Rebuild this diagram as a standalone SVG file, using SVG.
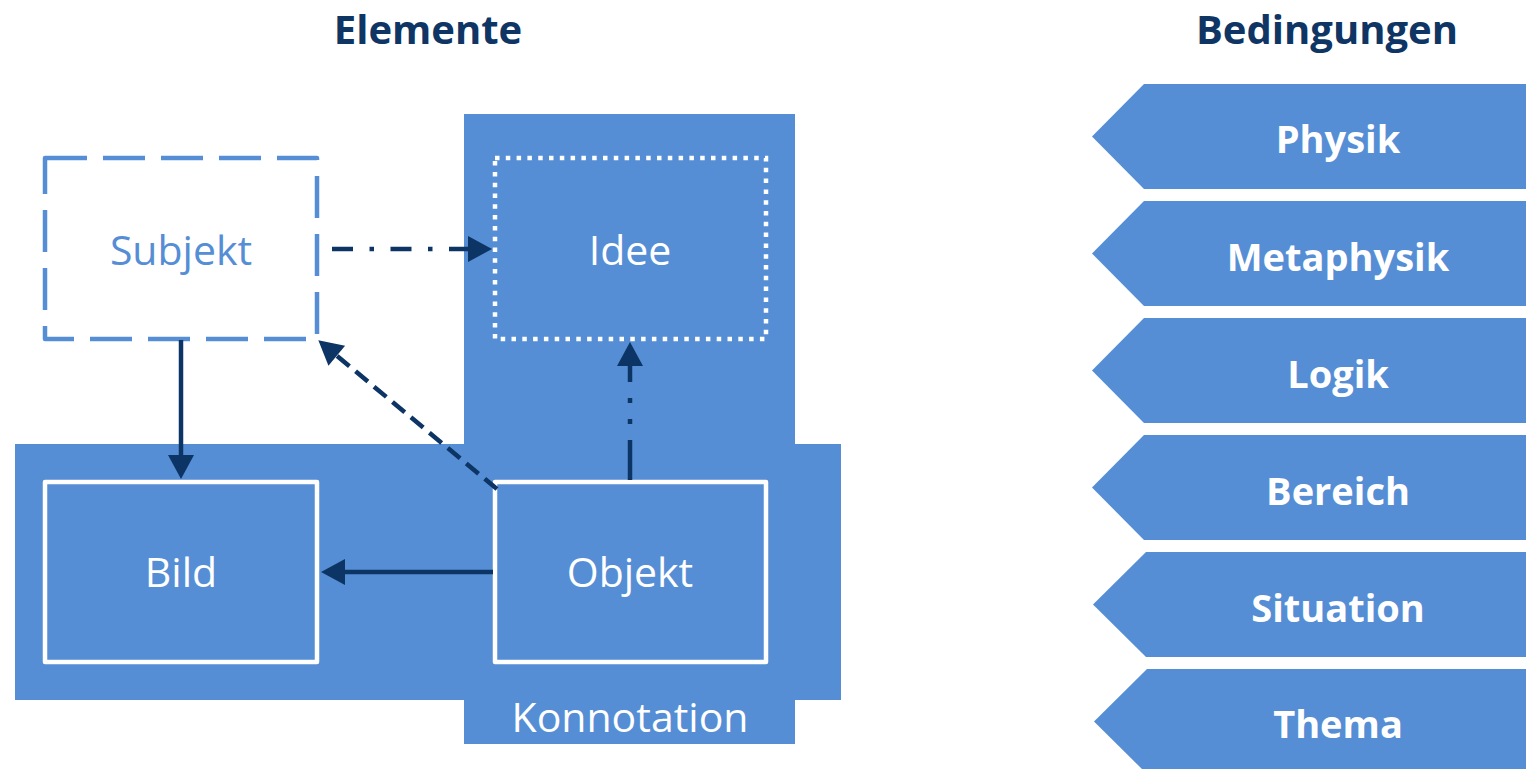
<svg xmlns="http://www.w3.org/2000/svg" width="1526" height="769" viewBox="0 0 1526 769">
<style>
.bg{fill:#558ED5}
.title{font-family:"Open Sans","Noto Sans",sans-serif;font-weight:bold;font-size:40px;fill:#0F3564;text-anchor:middle}
.lbl{font-family:"Open Sans","Noto Sans",sans-serif;font-size:41px;fill:#FFFFFF;text-anchor:middle}
.chev{font-family:"Open Sans","Noto Sans",sans-serif;font-weight:bold;font-size:38px;fill:#FFFFFF;text-anchor:middle}
.box{fill:none;stroke:#FFFFFF;stroke-width:4.5;stroke-linejoin:round}
.con{fill:none;stroke:#0C3464;stroke-width:4.5}
</style>
<defs>
<marker id="ah" markerUnits="userSpaceOnUse" markerWidth="30" markerHeight="30" viewBox="0 -15 26 30" refX="1" refY="0" orient="auto">
<path d="M0,-13 L24,0 L0,13 z" fill="#0C3464"/>
</marker>
</defs>
<rect width="1526" height="769" fill="#FFFFFF"/>
<text class="title" x="428" y="44">Elemente</text>
<text class="title" x="1327" y="44">Bedingungen</text>
<g id="background">
<rect class="bg" x="464" y="114" width="331" height="630"/>
<rect class="bg" x="15" y="444" width="826" height="256"/>
</g>
<g id="konnotation">
<text class="lbl" x="630" y="732">Konnotation</text>
</g>
<g id="subjekt">
<rect x="45" y="158" width="272" height="181" fill="none" stroke="#558ED5" stroke-width="4.5" stroke-linejoin="round" stroke-dasharray="42 16"/>
<text class="lbl" x="181" y="265" fill="#558ED5" style="fill:#558ED5">Subjekt</text>
</g>
<g id="idee">
<rect class="box" x="495" y="158" width="271" height="181" stroke-dasharray="4.5 6.3" style="stroke-linejoin:miter"/>
<text class="lbl" x="630" y="265">Idee</text>
</g>
<g id="bild">
<rect class="box" x="45" y="482" width="272" height="180"/>
<text class="lbl" x="181" y="587">Bild</text>
</g>
<g id="objekt">
<rect class="box" x="495" y="482" width="271" height="180"/>
<text class="lbl" x="630" y="587">Objekt</text>
</g>
<g id="connectors">
<path class="con" d="M181,340 L181,456" stroke-width="4" marker-end="url(#ah)"/>
<path class="con" d="M332,249 L469,249" stroke-dasharray="21 16.5 4.5 16.5" marker-end="url(#ah)"/>
<path class="con" d="M497,489 L336,355" stroke-dasharray="16 8" marker-end="url(#ah)"/>
<path class="con" d="M493,572 L344,572" stroke-width="5" marker-end="url(#ah)"/>
<path class="con" d="M630,480 L630,365" stroke-width="5" stroke-dasharray="40 16 5 16 5 16" marker-end="url(#ah)"/>
</g>
<g id="physik">
<polygon class="bg" points="1092,136.5 1144,84 1526,84 1526,189 1144,189"/>
<text class="chev" x="1338" y="153">Physik</text>
</g>
<g id="metaphysik">
<polygon class="bg" points="1092,253.5 1144,201 1526,201 1526,306 1144,306"/>
<text class="chev" x="1338" y="271">Metaphysik</text>
</g>
<g id="logik">
<polygon class="bg" points="1092,370.5 1144,318 1526,318 1526,423 1144,423"/>
<text class="chev" x="1338" y="388">Logik</text>
</g>
<g id="bereich">
<polygon class="bg" points="1092,487.5 1144,435 1526,435 1526,540 1144,540"/>
<text class="chev" x="1338" y="505">Bereich</text>
</g>
<g id="situation">
<polygon class="bg" points="1093,604.5 1146,552 1526,552 1526,657 1146,657"/>
<text class="chev" x="1338" y="622">Situation</text>
</g>
<g id="thema">
<polygon class="bg" points="1094,721.5 1147,669 1526,669 1526,774 1147,774"/>
<text class="chev" x="1338" y="738">Thema</text>
</g>
</svg>
